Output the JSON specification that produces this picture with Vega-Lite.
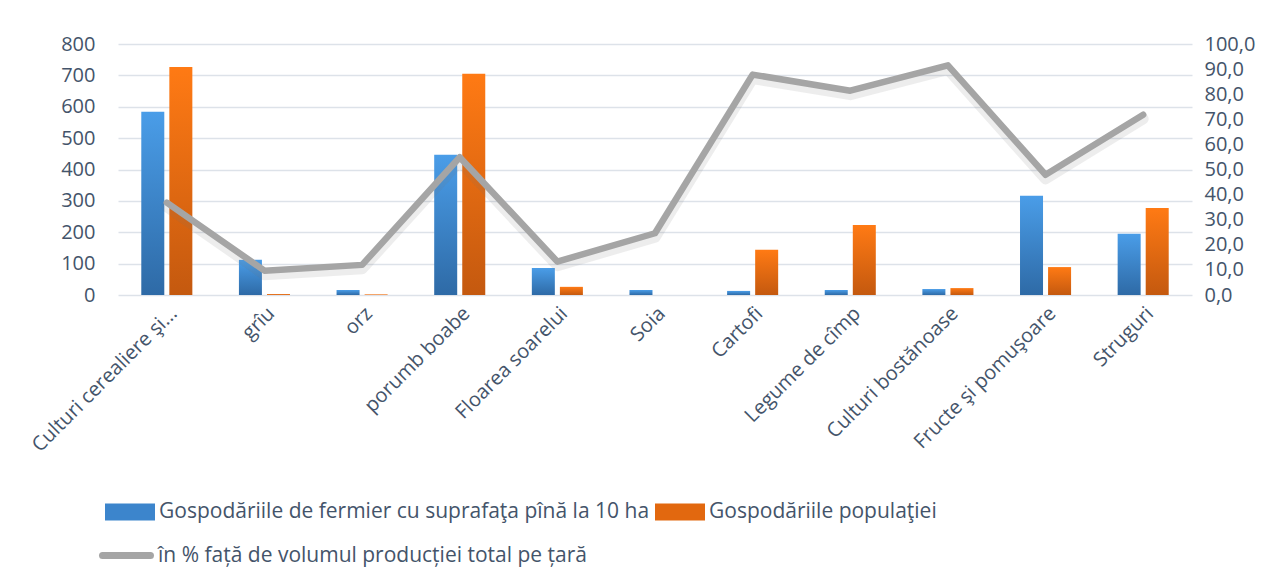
{
  "$schema": "https://vega.github.io/schema/vega-lite/v6.json",
  "width": 1074,
  "height": 251,
  "autosize": "none",
  "padding": {"left": 118, "top": 44, "right": 83, "bottom": 288},
  "background": "white",
  "config": {
    "font": "Open Sans",
    "view": {"stroke": null},
    "axis": {"labelFont": "Open Sans", "labelFontSize": 20, "labelColor": "#44546A", "domain": false, "ticks": false, "title": null, "labelLimit": 500},
    "legend": {"labelFont": "Open Sans", "labelFontSize": 21, "labelColor": "#44546A", "labelLimit": 800}
  },
  "datasets": {
    "bars": [
      {"cat": "Culturi cerealiere şi...", "serie": "Gospodăriile de fermier cu suprafaţa pînă la 10 ha", "val": 584},
      {"cat": "Culturi cerealiere şi...", "serie": "Gospodăriile populaţiei", "val": 727},
      {"cat": "grîu", "serie": "Gospodăriile de fermier cu suprafaţa pînă la 10 ha", "val": 112},
      {"cat": "grîu", "serie": "Gospodăriile populaţiei", "val": 3},
      {"cat": "orz", "serie": "Gospodăriile de fermier cu suprafaţa pînă la 10 ha", "val": 16},
      {"cat": "orz", "serie": "Gospodăriile populaţiei", "val": 2},
      {"cat": "porumb boabe", "serie": "Gospodăriile de fermier cu suprafaţa pînă la 10 ha", "val": 447},
      {"cat": "porumb boabe", "serie": "Gospodăriile populaţiei", "val": 705},
      {"cat": "Floarea soarelui", "serie": "Gospodăriile de fermier cu suprafaţa pînă la 10 ha", "val": 86},
      {"cat": "Floarea soarelui", "serie": "Gospodăriile populaţiei", "val": 26},
      {"cat": "Soia", "serie": "Gospodăriile de fermier cu suprafaţa pînă la 10 ha", "val": 16},
      {"cat": "Soia", "serie": "Gospodăriile populaţiei", "val": 0},
      {"cat": "Cartofi", "serie": "Gospodăriile de fermier cu suprafaţa pînă la 10 ha", "val": 13},
      {"cat": "Cartofi", "serie": "Gospodăriile populaţiei", "val": 144},
      {"cat": "Legume de cîmp", "serie": "Gospodăriile de fermier cu suprafaţa pînă la 10 ha", "val": 16},
      {"cat": "Legume de cîmp", "serie": "Gospodăriile populaţiei", "val": 223},
      {"cat": "Culturi bostănoase", "serie": "Gospodăriile de fermier cu suprafaţa pînă la 10 ha", "val": 19},
      {"cat": "Culturi bostănoase", "serie": "Gospodăriile populaţiei", "val": 22},
      {"cat": "Fructe şi pomuşoare", "serie": "Gospodăriile de fermier cu suprafaţa pînă la 10 ha", "val": 316},
      {"cat": "Fructe şi pomuşoare", "serie": "Gospodăriile populaţiei", "val": 89},
      {"cat": "Struguri", "serie": "Gospodăriile de fermier cu suprafaţa pînă la 10 ha", "val": 195},
      {"cat": "Struguri", "serie": "Gospodăriile populaţiei", "val": 277}
    ],
    "line": [
      {"cat": "Culturi cerealiere şi...", "pct": 36.8},
      {"cat": "grîu", "pct": 9.7},
      {"cat": "orz", "pct": 12.0},
      {"cat": "porumb boabe", "pct": 54.9},
      {"cat": "Floarea soarelui", "pct": 13.3},
      {"cat": "Soia", "pct": 24.6},
      {"cat": "Cartofi", "pct": 87.8},
      {"cat": "Legume de cîmp", "pct": 81.4},
      {"cat": "Culturi bostănoase", "pct": 91.5},
      {"cat": "Fructe şi pomuşoare", "pct": 47.9},
      {"cat": "Struguri", "pct": 71.8}
    ]
  },
  "encoding": {
    "x": {
      "field": "cat",
      "type": "nominal",
      "sort": ["Culturi cerealiere şi...", "grîu", "orz", "porumb boabe", "Floarea soarelui", "Soia", "Cartofi", "Legume de cîmp", "Culturi bostănoase", "Fructe şi pomuşoare", "Struguri"],
      "scale": {"paddingInner": 0, "paddingOuter": 0},
      "axis": {"labelAngle": -45, "labelPadding": 8, "grid": false}
    }
  },
  "layer": [
    {
      "data": {"name": "bars"},
      "mark": {"type": "bar", "opacity": 0},
      "encoding": {
        "xOffset": {
          "field": "serie",
          "type": "nominal",
          "sort": ["Gospodăriile de fermier cu suprafaţa pînă la 10 ha", "Gospodăriile populaţiei"],
          "scale": {"paddingInner": 0.18, "paddingOuter": 0.83}
        },
        "y": {
          "field": "val",
          "type": "quantitative",
          "scale": {"domain": [0, 800], "nice": false},
          "axis": {"values": [0, 100, 200, 300, 400, 500, 600, 700, 800], "labelPadding": 23, "grid": true, "gridColor": "#DDE2E9", "gridWidth": 1.5}
        },
        "color": {
          "field": "serie",
          "type": "nominal",
          "sort": ["Gospodăriile de fermier cu suprafaţa pînă la 10 ha", "Gospodăriile populaţiei"],
          "scale": {"range": ["#3C85CC", "#E2680F"]},
          "legend": {
            "title": null,
            "orient": "none",
            "direction": "horizontal",
            "legendX": -13,
            "legendY": 443,
            "symbolType": "M-1,-0.34H1V0.34H-1Z",
            "symbolSize": 2500,
            "symbolStrokeWidth": 0,
            "symbolOpacity": 1,
            "labelOffset": 4,
            "columnPadding": 5,
            "encode": {
              "symbols": {
                "update": {
                  "opacity": {"value": 1},
                  "fill": [
                    {"test": "datum.value === 'Gospodăriile populaţiei'", "value": {"gradient": "linear", "x1": 0, "y1": 0, "x2": 0, "y2": 1, "stops": [{"offset": 0, "color": "#FF7A14"}, {"offset": 1, "color": "#C4590F"}]}},
                    {"value": {"gradient": "linear", "x1": 0, "y1": 0, "x2": 0, "y2": 1, "stops": [{"offset": 0, "color": "#4A9DE8"}, {"offset": 1, "color": "#2E6AA6"}]}}
                  ]
                }
              }
            }
          }
        }
      }
    },
    {
      "data": {"name": "bars"},
      "mark": {"type": "bar"},
      "encoding": {
        "xOffset": {
          "field": "serie",
          "type": "nominal",
          "sort": ["Gospodăriile de fermier cu suprafaţa pînă la 10 ha", "Gospodăriile populaţiei"],
          "scale": {"paddingInner": 0.18, "paddingOuter": 0.83}
        },
        "y": {"field": "val", "type": "quantitative", "scale": {"domain": [0, 800], "nice": false}, "axis": null},
        "fill": {
          "condition": {
            "test": "datum.serie === 'Gospodăriile populaţiei'",
            "value": {"gradient": "linear", "x1": 0, "y1": 0, "x2": 0, "y2": 1, "stops": [{"offset": 0, "color": "#FF7A14"}, {"offset": 1, "color": "#C4590F"}]}
          },
          "value": {"gradient": "linear", "x1": 0, "y1": 0, "x2": 0, "y2": 1, "stops": [{"offset": 0, "color": "#4A9DE8"}, {"offset": 1, "color": "#2E6AA6"}]}
        }
      }
    },
    {
      "data": {"name": "line"},
      "mark": {"type": "line", "color": "#777777", "strokeWidth": 11, "opacity": 0.13, "yOffset": 4, "strokeJoin": "round", "strokeCap": "round"},
      "encoding": {
        "y": {"field": "pct", "type": "quantitative", "scale": {"domain": [0, 100], "nice": false}, "axis": null}
      }
    },
    {
      "data": {"name": "line"},
      "mark": {"type": "line", "strokeWidth": 6.5, "strokeJoin": "round", "strokeCap": "round"},
      "encoding": {
        "y": {
          "field": "pct",
          "type": "quantitative",
          "scale": {"domain": [0, 100], "nice": false},
          "axis": {"orient": "right", "values": [0, 10, 20, 30, 40, 50, 60, 70, 80, 90, 100], "labelExpr": "replace(format(datum.value, '.1f'), '.', ',')", "labelPadding": 12, "labelAlign": "left", "grid": false}
        },
        "stroke": {
          "datum": "în % față de volumul producției total pe țară",
          "type": "nominal",
          "scale": {"range": ["#A5A5A5"]},
          "legend": {
            "title": null,
            "orient": "none",
            "legendX": -19,
            "legendY": 484,
            "symbolType": "stroke",
            "symbolSize": 2300,
            "symbolStrokeWidth": 7,
            "labelOffset": 4,
            "encode": {"symbols": {"update": {"strokeCap": {"value": "round"}}}}
          }
        }
      }
    }
  ],
  "resolve": {"scale": {"y": "independent"}}
}
